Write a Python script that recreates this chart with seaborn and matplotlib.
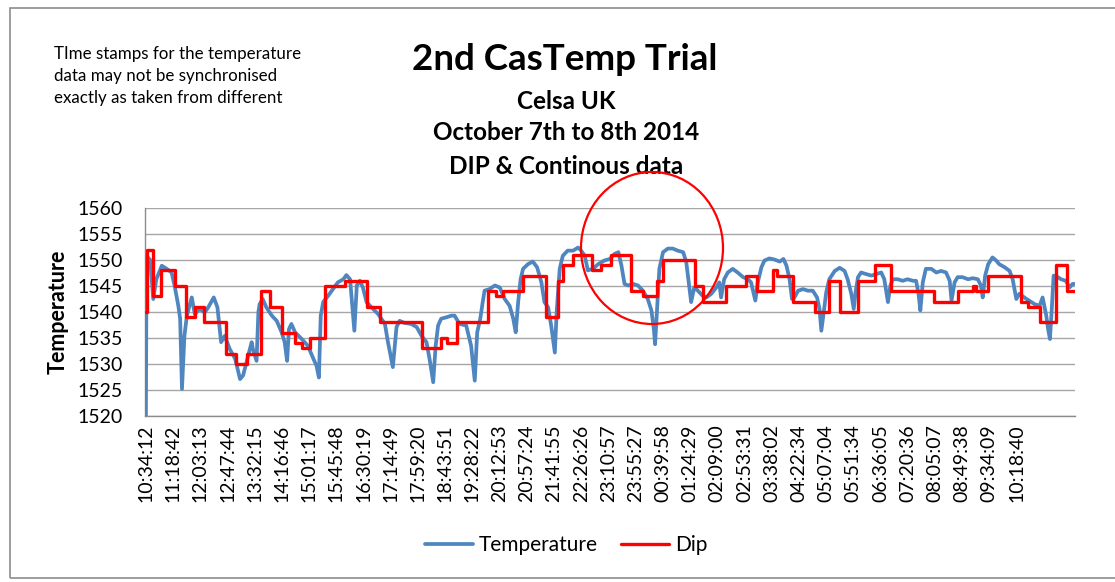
import matplotlib
matplotlib.use("Agg")
import matplotlib.pyplot as plt
from matplotlib.patches import Ellipse, Rectangle
import seaborn as sns
import pandas as pd

# ---------------- data ----------------
# elapsed minutes since 10:34:12 (Oct 7th) and continuous temperature readings
temp_minutes = [0, 1, 7, 12, 17, 26, 34, 42, 47, 53, 56, 59, 63, 67, 75, 80, 88, 96, 102, 111,
                117, 123, 129, 137, 146, 154, 159, 166, 173, 175, 181, 184, 186, 191, 197, 206,
                214, 222, 227, 231, 234, 238, 244, 255, 265, 274, 279, 283, 286, 290, 298, 306,
                314, 323, 328, 334, 341, 345, 350, 355, 361, 369, 380, 391, 396, 404, 410, 415,
                423, 434, 443, 451, 459, 464, 470, 474, 478, 483, 492, 500, 505, 513, 524, 532,
                538, 542, 547, 551, 554, 562, 571, 579, 587, 595, 601, 605, 609, 613, 617, 625,
                633, 640, 647, 652, 658, 663, 669, 672, 677, 682, 690, 699, 707, 712, 718, 723,
                731, 740, 750, 759, 767, 773, 778, 783, 789, 797, 805, 813, 821, 827, 831, 833,
                837, 840, 846, 854, 862, 870, 879, 884, 888, 892, 897, 903, 911, 917, 925, 933,
                938, 941, 946, 952, 960, 968, 977, 985, 990, 997, 1001, 1007, 1012, 1020, 1028,
                1037, 1043, 1048, 1053, 1057, 1061, 1067, 1075, 1083, 1091, 1098, 1102, 1105,
                1109, 1113, 1118, 1127, 1135, 1143, 1148, 1154, 1158, 1161, 1165, 1170, 1178,
                1187, 1195, 1203, 1208, 1214, 1218, 1222, 1230, 1238, 1246, 1255, 1260, 1264,
                1267, 1271, 1276, 1285, 1293, 1301, 1309, 1315, 1318, 1323, 1328, 1336, 1345,
                1353, 1361, 1366, 1369, 1373, 1378, 1385, 1391, 1396, 1405, 1413, 1418, 1424,
                1429, 1437, 1445, 1454, 1462, 1467, 1473, 1476, 1479, 1482, 1485, 1492, 1497,
                1505, 1511, 1516, 1519]
temp_values = [1520, 1550.8, 1550, 1542.5, 1546.3, 1548.9, 1548.3, 1547.6, 1545, 1541.2, 1538.7,
               1525.2, 1535.4, 1539.3, 1542.8, 1539.6, 1540.6, 1539.9, 1540.9, 1542.8, 1540.9,
               1534.2, 1535.4, 1532.9, 1531, 1527.1, 1527.8, 1531, 1534.2, 1532.9, 1530.6, 1540,
               1541.5, 1542.5, 1540.9, 1539.3, 1538.3, 1536.1, 1534.2, 1530.6, 1536.7, 1537.7,
               1536.1, 1534.8, 1533.5, 1531, 1529.7, 1527.4, 1539.3, 1541.9, 1543.1, 1544.4,
               1545.7, 1546.3, 1547.1, 1546.3, 1536.4, 1545.1, 1546, 1544.7, 1541.9, 1540.9,
               1539.6, 1537.7, 1534.2, 1529.4, 1537.1, 1538.3, 1537.9, 1537.7, 1537.1, 1535.4,
               1534.2, 1531, 1526.5, 1533.5, 1537.4, 1538.7, 1539, 1539.3, 1539.3, 1537.7,
               1537.4, 1533.5, 1526.8, 1536.1, 1538.7, 1541.9, 1544.1, 1544.4, 1545.1, 1544.7,
               1542.5, 1541.2, 1538.7, 1536.1, 1541.9, 1546.3, 1548.3, 1549.2, 1549.7, 1548.6,
               1545.7, 1541.9, 1540.9, 1537.4, 1532.2, 1540, 1548.3, 1550.8, 1551.8, 1551.8,
               1552.4, 1551.8, 1550.8, 1548, 1548.3, 1549.2, 1549.9, 1550.2, 1551.2, 1551.5,
               1548.9, 1545.4, 1545.1, 1545.4, 1545.1, 1544.1, 1542.5, 1540.3, 1536.7, 1533.8,
               1541.9, 1548.3, 1551.5, 1552.2, 1552.2, 1551.8, 1551.5, 1549.6, 1545.7, 1541.9,
               1544.7, 1544.1, 1543.1, 1542.8, 1543.5, 1544.7, 1545.7, 1542.8, 1546.3, 1547.6,
               1548.3, 1547.6, 1546.7, 1546.3, 1545.7, 1542.2, 1545.7, 1548.6, 1549.9, 1550.3,
               1550.1, 1549.7, 1550.2, 1548.9, 1546.3, 1542.5, 1542.8, 1544.1, 1544.4, 1544.1,
               1544.1, 1542.8, 1540.6, 1536.4, 1540, 1543.8, 1546.3, 1547.9, 1548.5, 1547.9,
               1546.3, 1543.5, 1540.6, 1543.8, 1546.7, 1547.6, 1547.3, 1547, 1547.3, 1547.6,
               1546.3, 1541.9, 1545.1, 1546.3, 1546.3, 1546, 1546.3, 1546, 1546, 1543.5, 1540.3,
               1545.7, 1548.3, 1548.3, 1547.6, 1547.9, 1547.6, 1546, 1542.2, 1545.7, 1546.7,
               1546.7, 1546.3, 1546.5, 1546.3, 1545.1, 1542.8, 1547, 1549.2, 1550.5, 1549.9,
               1549.2, 1548.6, 1547.9, 1546.3, 1542.5, 1543.5, 1542.8, 1542.2, 1541.5, 1541.2,
               1542.8, 1539.3, 1536.7, 1534.8, 1540.6, 1547, 1546.7, 1546.3, 1546, 1544.7,
               1545.4, 1545.4]

# dip measurements: minute at which each new dip value takes effect
dip_minutes = [0, 1, 12, 24, 47, 65, 80, 95, 131, 148, 166, 189, 203, 222, 244, 255, 268, 293,
               325, 361, 383, 451, 483, 492, 509, 560, 573, 584, 617, 655, 674, 682, 699, 729,
               745, 761, 793, 813, 836, 846, 898, 911, 949, 982, 999, 1026, 1032, 1058, 1094,
               1117, 1136, 1165, 1192, 1219, 1289, 1328, 1353, 1358, 1378, 1432, 1443, 1462,
               1489, 1507, 1519]
dip_values = [1540, 1552, 1543, 1548, 1545, 1539, 1541, 1538, 1532, 1530, 1532, 1544, 1541,
              1536, 1534, 1533, 1535, 1545, 1546, 1541, 1538, 1533, 1535, 1534, 1538, 1544,
              1543, 1544, 1547, 1539, 1546, 1549, 1551, 1548, 1549, 1551, 1544, 1543, 1546,
              1550, 1545, 1542, 1545, 1547, 1544, 1548, 1547, 1542, 1540, 1546, 1540, 1546,
              1549, 1544, 1542, 1544, 1545, 1544, 1547, 1542, 1541, 1538, 1549, 1544, 1544]

tick_labels = ["10:34:12", "11:18:42", "12:03:13", "12:47:44", "13:32:15", "14:16:46",
               "15:01:17", "15:45:48", "16:30:19", "17:14:49", "17:59:20", "18:43:51",
               "19:28:22", "20:12:53", "20:57:24", "21:41:55", "22:26:26", "23:10:57",
               "23:55:27", "00:39:58", "01:24:29", "02:09:00", "02:53:31", "03:38:02",
               "04:22:34", "05:07:04", "05:51:34", "06:36:05", "07:20:36", "08:05:07",
               "08:49:38", "09:34:09", "10:18:40"]
y_ticks = [1520, 1525, 1530, 1535, 1540, 1545, 1550, 1555, 1560]

title = "2nd CasTemp Trial"
subtitle_lines = ["Celsa UK", "October 7th to 8th 2014", "DIP & Continous data"]
note_lines = ["TIme stamps for the temperature", "data may not be synchronised",
              "exactly as taken from different"]

# ---------------- figure ----------------
W, H = 1115, 582
sns.set_theme(style="white")
plt.rcParams["font.family"] = ["Lato", "DejaVu Sans"]
plt.rcParams["text.color"] = "black"
plt.rcParams["axes.labelcolor"] = "black"

fig = plt.figure(figsize=(W / 100, H / 100), dpi=100)
fig.patch.set_facecolor("white")
ax = fig.add_axes([145 / W, 1 - 416 / H, 930 / W, 208 / H])

temp_df = pd.DataFrame({"minute": temp_minutes, "value": temp_values})
dip_df = pd.DataFrame({"minute": dip_minutes, "value": dip_values})

blue = "#4F86C0"
red = "#FF0000"
sns.lineplot(data=temp_df, x="minute", y="value", ax=ax, color=blue, linewidth=2.7,
             estimator=None, sort=False, label="Temperature", zorder=3)
sns.lineplot(data=dip_df, x="minute", y="value", ax=ax, color=red, linewidth=2.4,
             estimator=None, sort=False, drawstyle="steps-post", label="Dip", zorder=4)

interval = 44.508  # minutes between labelled categories
ax.set_xticks([i * interval for i in range(len(tick_labels))])
ax.set_xticklabels(tick_labels, rotation=90, fontsize=14, color="black")
ax.set_yticks(y_ticks)
ax.set_yticklabels([str(t) for t in y_ticks], fontsize=14, color="black")
ax.set_xlim(-1.5, 1520)
ax.set_ylim(1520, 1560)

ax.yaxis.grid(True, color="#A6A6A6", linewidth=1.0)
ax.xaxis.grid(False)
for s in ["top", "right"]:
    ax.spines[s].set_visible(False)
ax.spines["left"].set_color("#8C8C8C")
ax.spines["bottom"].set_color("#8C8C8C")
ax.spines["left"].set_linewidth(1.0)
ax.spines["bottom"].set_linewidth(1.0)
ax.tick_params(axis="y", length=0, pad=16)
ax.tick_params(axis="x", length=0, pad=6)
ax.set_xlabel("")
ax.set_ylabel("Temperature", fontsize=15.5, fontweight="bold", color="black")
ax.yaxis.set_label_coords(-76 / 930, 0.5)

ax.get_legend().remove()
handles, labels = ax.get_legend_handles_labels()
leg = fig.legend(handles, labels, loc="center", bbox_to_anchor=(566 / W, 1 - 545 / H), ncol=2,
                 frameon=False, fontsize=15, handlelength=2.3, columnspacing=1.1,
                 handletextpad=0.3)
for t in leg.get_texts():
    t.set_color("black")

# titles
fig.text(565 / W, 1 - 60 / H, title, ha="center", va="center", fontsize=26.5,
         fontweight="bold", color="black")
for txt, yc in zip(subtitle_lines, [101, 133, 167]):
    fig.text(566 / W, 1 - yc / H, txt, ha="center", va="center", fontsize=17.5,
             fontweight="bold", color="black")
for txt, yc in zip(note_lines, [54, 76, 98]):
    fig.text(54 / W, 1 - yc / H, txt, ha="left", va="center", fontsize=12.2, color="black")

# highlight circle
fig.add_artist(Ellipse((652 / W, 1 - 248 / H), 142 / W, 152 / H, transform=fig.transFigure,
                       fill=False, edgecolor=red, linewidth=1.6, zorder=10))
# chart border
fig.add_artist(Rectangle((10 / W, 1 - 578 / H), 1.2, 570 / H, transform=fig.transFigure,
                         fill=False, edgecolor="#8C8C8C", linewidth=1.2))

fig.savefig("out.png", dpi=100, facecolor="white")
